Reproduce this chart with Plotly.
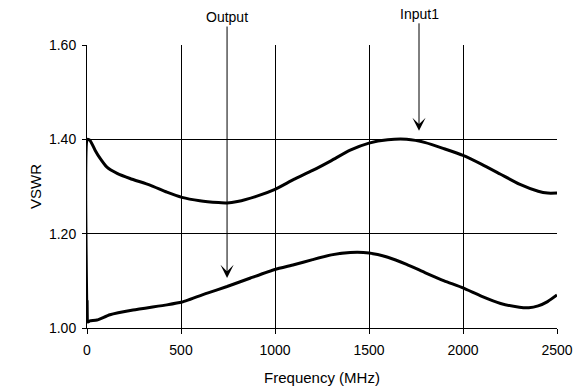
import plotly.graph_objects as go

# Input1 curve (Frequency MHz, VSWR)
input_freq = [0, 3, 16, 43, 69, 106, 160, 229, 335, 425, 505, 600, 700, 745, 800, 900, 1000, 1100, 1200, 1300, 1400, 1500, 1600, 1700, 1800, 1900, 2000, 2100, 2200, 2300, 2400, 2450, 2500]
input_vswr = [1.01, 1.400, 1.398, 1.377, 1.360, 1.341, 1.328, 1.317, 1.303, 1.288, 1.277, 1.270, 1.266, 1.265, 1.268, 1.279, 1.294, 1.315, 1.334, 1.355, 1.377, 1.392, 1.399, 1.400, 1.393, 1.380, 1.366, 1.347, 1.326, 1.305, 1.290, 1.286, 1.286]

# Output curve
output_freq = [0, 5, 15, 53, 122, 245, 425, 505, 640, 745, 870, 1000, 1100, 1200, 1300, 1400, 1500, 1600, 1700, 1800, 1900, 2000, 2100, 2200, 2300, 2350, 2400, 2450, 2500]
output_vswr = [1.059, 1.013, 1.015, 1.017, 1.028, 1.038, 1.049, 1.055, 1.074, 1.088, 1.106, 1.124, 1.134, 1.145, 1.155, 1.160, 1.159, 1.150, 1.135, 1.117, 1.100, 1.085, 1.067, 1.052, 1.044, 1.043, 1.047, 1.056, 1.070]

x_ticks = [0, 500, 1000, 1500, 2000, 2500]
y_ticks = [1.0, 1.2, 1.4, 1.6]
y_tick_text = ["1.00", "1.20", "1.40", "1.60"]

labels = ["Output", "Input1"]
label_freq = [745, 1766]
label_vswr = [1.106, 1.418]

FONT = "Liberation Sans, Arial, sans-serif"

fig = go.Figure()
fig.add_trace(go.Scatter(x=input_freq, y=input_vswr, mode="lines",
                         line=dict(color="black", width=3, shape="spline", smoothing=0.5),
                         name="Input1", showlegend=False))
fig.add_trace(go.Scatter(x=output_freq, y=output_vswr, mode="lines",
                         line=dict(color="black", width=3, shape="spline", smoothing=0.5),
                         name="Output", showlegend=False))

tail_offsets = [-261, -117]
for lab, fx, fy, ay in zip(labels, label_freq, label_vswr, tail_offsets):
    fig.add_annotation(x=fx, y=fy, text=lab, showarrow=True, ax=0, ay=ay,
                       arrowhead=3, arrowsize=2.2, arrowwidth=1, arrowcolor="black",
                       font=dict(family=FONT, size=14, color="black"))

fig.update_layout(
    width=581, height=390,
    margin=dict(l=87, r=24, t=45, b=62),
    paper_bgcolor="white", plot_bgcolor="white",
    font=dict(family=FONT, size=14, color="black"),
)
fig.update_xaxes(range=[0, 2500], tickvals=x_ticks, ticktext=[str(v) for v in x_ticks],
                 showgrid=True, gridcolor="black", gridwidth=1,
                 showline=True, linecolor="black", linewidth=1,
                 ticks="outside", ticklen=5, tickcolor="black", ticklabelstandoff=4,
                 zeroline=False, automargin=False,
                 title=dict(text="Frequency (MHz)", font=dict(size=15)))
fig.update_yaxes(range=[1.0, 1.6], tickvals=y_ticks, ticktext=y_tick_text,
                 showgrid=True, gridcolor="black", gridwidth=1,
                 showline=True, linecolor="black", linewidth=1,
                 ticks="outside", ticklen=4, tickcolor="black", ticklabelstandoff=3,
                 zeroline=False, automargin=False,
                 title=dict(text="VSWR", font=dict(size=15), standoff=3))

fig.write_html("out.html")
